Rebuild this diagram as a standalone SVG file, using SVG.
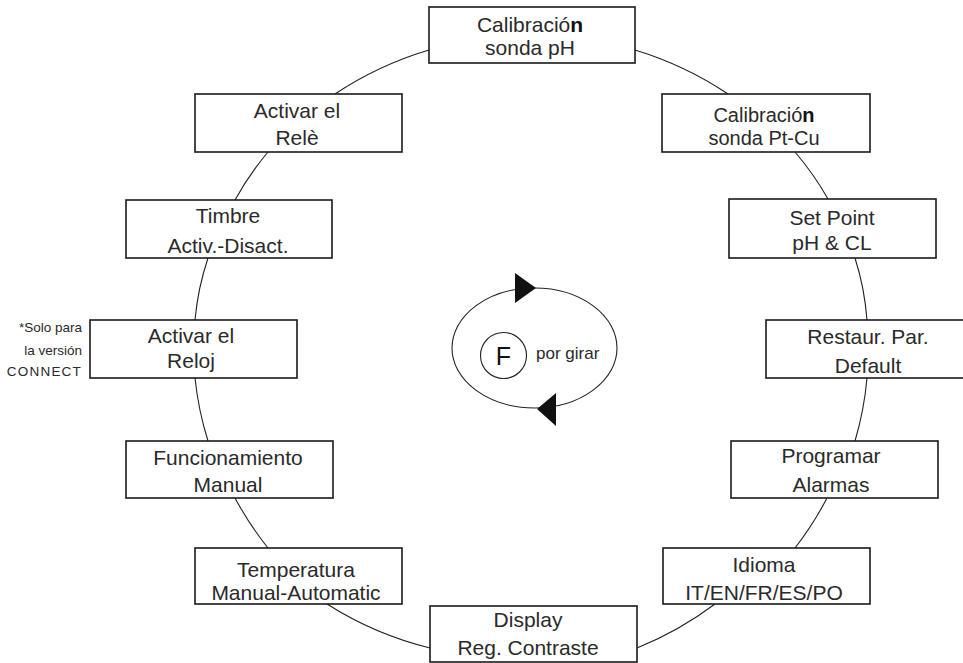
<svg xmlns="http://www.w3.org/2000/svg" width="963" height="663" viewBox="0 0 963 663">
  <style>
    .box rect { fill: #ffffff; stroke: #1a1a1a; stroke-width: 1.6; }
    .box text { font-family: "Liberation Sans", Arial, sans-serif; font-size: 21px; fill: #2a2a2a; text-anchor: middle; }
    .box text.tight { font-size: 20px; }
    .link { fill: none; stroke: #222222; stroke-width: 1.1; }
    .note { font-family: "Liberation Sans", Arial, sans-serif; font-size: 13.5px; fill: #2a2a2a; text-anchor: end; }
    .b { font-weight: bold; fill: #111111; }
  </style>
  <rect width="963" height="663" fill="#ffffff"/>

  <!-- connectors forming the outer ring -->
  <g id="connectors">
    <path class="link" d="M635,50 A335,300 0 0 1 728,94"/>
    <path class="link" d="M795,152 A335,300 0 0 1 828,199"/>
    <path class="link" d="M855,258 A335,300 0 0 1 867,320"/>
    <path class="link" d="M867,378 A340,330 0 0 1 855,441"/>
    <path class="link" d="M827,498 A340,330 0 0 1 795,548"/>
    <path class="link" d="M715,604 A340,330 0 0 1 637,648"/>
    <path class="link" d="M430,648 A340,330 0 0 1 327,604"/>
    <path class="link" d="M268,548 A340,330 0 0 1 235,498"/>
    <path class="link" d="M208,441 A340,330 0 0 1 195,378"/>
    <path class="link" d="M195,320 A335,300 0 0 1 208,258"/>
    <path class="link" d="M235,200 A335,300 0 0 1 268,152"/>
    <path class="link" d="M335,94 A335,300 0 0 1 429,50"/>
  </g>

  <!-- central rotation loop -->
  <g id="rotate">
    <ellipse cx="534.5" cy="348" rx="82.5" ry="60" fill="none" stroke="#222222" stroke-width="1.1"/>
    <polygon points="515,273 515,303 536,288" fill="#111111"/>
    <polygon points="556,393 556,426 537,409" fill="#111111"/>
    <circle cx="503.5" cy="355.5" r="23" fill="#ffffff" stroke="#222222" stroke-width="1.1"/>
    <text x="503.5" y="365" font-family="'Liberation Sans', Arial, sans-serif" font-size="25" fill="#111111" text-anchor="middle">F</text>
    <text x="536" y="359" font-family="'Liberation Sans', Arial, sans-serif" font-size="17" fill="#2a2a2a">por girar</text>
  </g>

  <g id="n-ph" class="box">
    <rect x="429" y="7" width="206" height="56"/>
    <text x="530" y="32">Calibració<tspan class="b">n</tspan></text>
    <text x="530" y="55">sonda pH</text>
  </g>
  <g id="n-ptcu" class="box">
    <rect x="662" y="94" width="208" height="58"/>
    <text class="tight" x="764" y="122">Calibració<tspan class="b">n</tspan></text>
    <text class="tight" x="764" y="145">sonda Pt-Cu</text>
  </g>
  <g id="n-setpoint" class="box">
    <rect x="729" y="199" width="207" height="59"/>
    <text x="832" y="225">Set Point</text>
    <text x="832" y="250">pH &amp; CL</text>
  </g>
  <g id="n-restaur" class="box">
    <rect x="766" y="320" width="207" height="58"/>
    <text x="868" y="344">Restaur. Par.</text>
    <text x="868" y="373">Default</text>
  </g>
  <g id="n-alarmas" class="box">
    <rect x="731" y="441" width="207" height="57"/>
    <text x="831" y="463">Programar</text>
    <text x="831" y="492">Alarmas</text>
  </g>
  <g id="n-idioma" class="box">
    <rect x="663" y="548" width="207" height="56"/>
    <text x="764" y="572">Idioma</text>
    <text x="764" y="600">IT/EN/FR/ES/PO</text>
  </g>
  <g id="n-display" class="box">
    <rect x="430" y="606" width="207" height="56"/>
    <text x="528" y="627">Display</text>
    <text x="528" y="655">Reg. Contraste</text>
  </g>
  <g id="n-temperatura" class="box">
    <rect x="195" y="548" width="207" height="56"/>
    <text x="296" y="577">Temperatura</text>
    <text x="296" y="600">Manual-Automatic</text>
  </g>
  <g id="n-manual" class="box">
    <rect x="126" y="441" width="207" height="57"/>
    <text x="228" y="465">Funcionamiento</text>
    <text x="228" y="492">Manual</text>
  </g>
  <g id="n-reloj" class="box">
    <rect x="90" y="320" width="207" height="58"/>
    <text x="191" y="343">Activar el</text>
    <text x="191" y="368">Reloj</text>
  </g>
  <g id="n-timbre" class="box">
    <rect x="126" y="200" width="206" height="58"/>
    <text x="228" y="223">Timbre</text>
    <text x="228" y="253">Activ.-Disact.</text>
  </g>
  <g id="n-rele" class="box">
    <rect x="195" y="94" width="207" height="58"/>
    <text x="297" y="118">Activar el</text>
    <text x="297" y="145">Relè</text>
  </g>

  <!-- side note next to the clock node -->
  <g id="note">
    <text class="note" x="82" y="332">*Solo para</text>
    <text class="note" x="82" y="355">la versión</text>
    <text class="note" x="82" y="376" letter-spacing="1.2">CONNECT</text>
  </g>
</svg>
